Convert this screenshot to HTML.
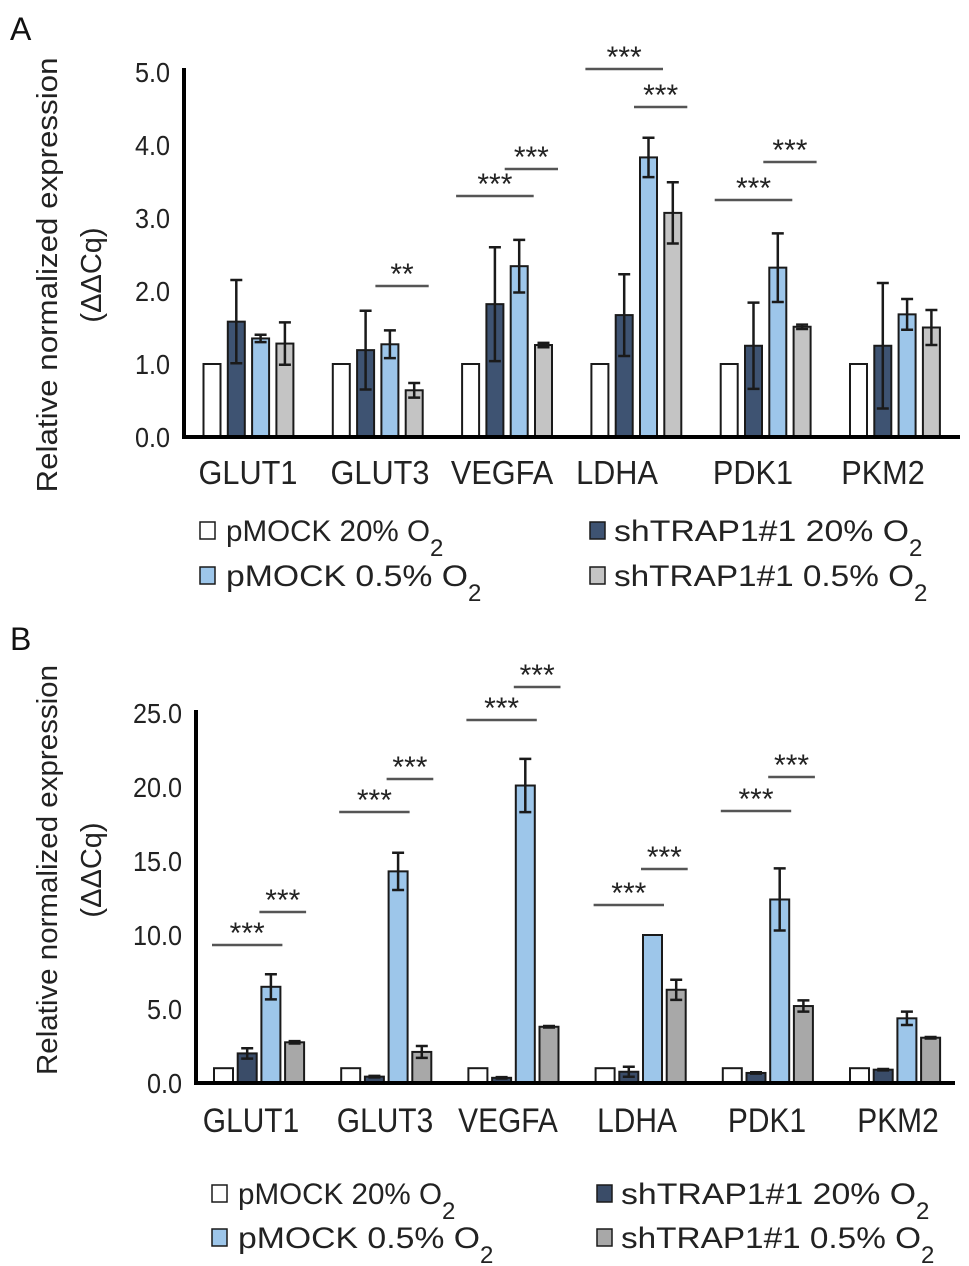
<!DOCTYPE html>
<html><head><meta charset="utf-8"><style>
html,body{margin:0;padding:0;background:#fff;}
svg{display:block;font-family:"Liberation Sans",sans-serif;}
</style></head><body>
<svg id="fig" width="969" height="1266" viewBox="0 0 969 1266" xmlns="http://www.w3.org/2000/svg">
<g id="g"></g>
</svg>
<script>
// ---- data ----
const categories = ["GLUT1","GLUT3","VEGFA","LDHA","PDK1","PKM2"];
const seriesNames = ["pMOCK 20% O","shTRAP1#1 20% O","pMOCK 0.5% O","shTRAP1#1 0.5% O"];
// Panel A
const aMock20 = [1,1,1,1,1,1];
const aSh20 = [1.58,1.19,1.82,1.67,1.25,1.25];
const aMock05 = [1.35,1.27,2.34,3.83,2.32,1.68];
const aSh05 = [1.28,0.64,1.26,3.07,1.51,1.5];
const aSh20Err = [0.57,0.54,0.78,0.56,0.59,0.86];
const aMock05Err = [0.05,0.19,0.36,0.27,0.47,0.21];
const aSh05Err = [0.29,0.1,0.03,0.42,0.03,0.24];
const aTicks = [0,1,2,3,4,5];
// Panel B
const bMock20 = [1,1,1,1,1,1];
const bSh20 = [2.0,0.43,0.35,0.76,0.68,0.9];
const bMock05 = [6.5,14.3,20.1,10.0,12.4,4.37];
const bSh05 = [2.75,2.1,3.8,6.3,5.2,3.06];
const bSh20Err = [0.35,0.05,0.05,0.34,0.05,0.05];
const bMock05Err = [0.85,1.26,1.8,0,2.1,0.45];
const bSh05Err = [0.08,0.4,0.05,0.68,0.38,0.05];
const bTicks = [0,5,10,15,20,25];
// significance: [category index, from series, to series, label]
const aSig = [[1,2,3,"**"],[2,0,2,"***"],[2,2,3,"***"],[3,0,2,"***"],[3,2,3,"***"],[4,0,2,"***"],[4,2,3,"***"]];
const bSig = [[0,0,2,"***"],[0,2,3,"***"],[1,0,2,"***"],[1,2,3,"***"],[2,0,2,"***"],[2,2,3,"***"],[3,0,2,"***"],[3,2,3,"***"],[4,0,2,"***"],[4,2,3,"***"]];

const NS="http://www.w3.org/2000/svg";
const root=document.getElementById('g');
function el(tag,attrs,parent,text){const e=document.createElementNS(NS,tag);for(const k in attrs)e.setAttribute(k,attrs[k]);if(text!==undefined)e.textContent=text;(parent||root).appendChild(e);return e;}

function panel(cfg){
  const P=el('g',{},root);
  
  
  const y=v=>cfg.y0-(v-cfg.vmin)*cfg.pxPer;
  const barX=(gi,si)=>cfg.gx0+gi*cfg.gPitch+si*cfg.bPitch;
  cfg.ticks.forEach(t=>{
    const tx=el('text',{x:0,y:0,'font-size':cfg.tickFs,'text-anchor':'end',fill:'#222',transform:`translate(${cfg.axX-14},${y(t)+10}) scale(0.9,1)`},P,t.toFixed(1));
    
    
  });
  const vals=[cfg.s0,cfg.s1,cfg.s2,cfg.s3];
  const errs=[null,cfg.e1,cfg.e2,cfg.e3];
  const cols=cfg.colors;
  categories.forEach((c,gi)=>{
    [0,1,2,3].forEach(si=>{
      const v=vals[si][gi];const x=barX(gi,si);
      const r=el('rect',{x:x,y:y(v),width:cfg.bw,height:y(0)-y(v),fill:cols[si],stroke:'#1a1a1a','stroke-width':2},P);
      
      
      if(errs[si]){const e=errs[si][gi];if(e>0){
        const cx=x+cfg.bw/2;
        const ln=el('path',{d:`M${cx},${y(v-e)}V${y(v+e)}M${cx-6},${y(v+e)}H${cx+6}M${cx-6},${y(v-e)}H${cx+6}`,stroke:'#1a1a1a','stroke-width':2.5,fill:'none'},P);
        
        
      }}
    });
    const lt=el('text',{x:0,y:0,'font-size':cfg.labFs,'text-anchor':'middle',fill:'#222',transform:`translate(${cfg.labC[gi]},${cfg.labY}) scale(${cfg.labSx},1)`},P,c);
    
    
  });
  const ax=el('path',{d:`M${cfg.axX},${cfg.axTop}V${y(0)}H${cfg.axRight}`,stroke:'#000','stroke-width':4,fill:'none'},P);
  
  
  cfg.sig.forEach((s,i)=>{
    const [gi,a,b,lab]=s;
    const x1=barX(gi,a)-cfg.sigPad, x2=barX(gi,b)+cfg.bw+cfg.sigPad;
    const ly=cfg.sigY[i];
    const l=el('line',{x1:x1,x2:x2,y1:ly,y2:ly,stroke:'#555','stroke-width':2.5},P);
    
    
    const t=el('text',{x:(x1+x2)/2,y:ly-2,'font-size':30,'text-anchor':'middle',fill:'#222'},P,lab);
    
    
  });
  const yt=el('text',{x:0,y:0,'font-size':29,'text-anchor':'middle',fill:'#222',transform:`translate(${cfg.ytX},${cfg.ytY}) rotate(-90)`,textLength:cfg.ytLen,lengthAdjust:'spacingAndGlyphs'},P,"Relative normalized expression");
  
  
  const yt2=el('text',{x:0,y:0,'font-size':29,'text-anchor':'middle',fill:'#222',transform:`translate(${cfg.ytX+44},${cfg.ytY}) rotate(-90)`},P,"(ΔΔCq)");
  
  
  const lg=el('g',{},P);
  
  
  const order=[[0,0,0],[1,1,0],[2,0,1],[3,1,1]];
  order.forEach(([si,col,row])=>{
    const bx=cfg.legX[col], by=cfg.legY[row];
    const r=el('rect',{x:bx,y:by-19,width:15,height:17,fill:cols[si],stroke:'#1a1a1a','stroke-width':1.5},lg);
    
    
    const t=el('text',{x:cfg.legTX[col],y:by,'font-size':cfg.legFs,fill:'#222'},lg);
    
    
    el('tspan',{textLength:cfg.legW[si],lengthAdjust:'spacingAndGlyphs'},t,seriesNames[si]);
    el('tspan',{dy:15,'font-size':cfg.legFs*0.8},t,"2");
  });
  const pl=el('text',{x:10,y:cfg.letterY,'font-size':32,fill:'#111'},P,cfg.letter);
  
  
}

panel({name:'panel-a',letter:'A',letterY:40,y0:437,vmin:0,pxPer:73,ticks:aTicks,axX:184,axTop:68,axRight:960,
  gx0:203.5,gPitch:129.3,bPitch:24.3,bw:17,tickFs:28,
  s0:aMock20,s1:aSh20,s2:aMock05,s3:aSh05,e1:aSh20Err,e2:aMock05Err,e3:aSh05Err,
  colors:['#ffffff','#3e5372','#9dc6ea','#c4c4c4'],
  labY:484,labFs:33,labSx:0.93,labC:[248,380,502,617,753,883],
  sig:aSig,sigY:[286,196,169,69,107,200,162],sigPad:6,
  ytX:57,ytY:275,ytLen:435,
  legX:[200,590],legTX:[226,614],legY:[541,586],legFs:30,legW:[204,295,242,300]});

panel({name:'panel-b',letter:'B',letterY:650,y0:1083,vmin:0,pxPer:14.8,ticks:bTicks,axX:196,axTop:710,axRight:955,
  gx0:214,gPitch:127.2,bPitch:23.7,bw:19,tickFs:28,
  s0:bMock20,s1:bSh20,s2:bMock05,s3:bSh05,e1:bSh20Err,e2:bMock05Err,e3:bSh05Err,
  colors:['#ffffff','#3a4c68','#9dc6ea','#a8a8a8'],
  labY:1132,labFs:34,labSx:0.88,labC:[251,385,508,637,767,898],
  sig:bSig,sigY:[945,912,812,779,720,687,905,869,811,777],sigPad:2,
  ytX:57,ytY:870,ytLen:410,
  legX:[212,597],legTX:[238,621],legY:[1204,1248],legFs:30,legW:[204,295,242,300]});
</script>
</body></html>
